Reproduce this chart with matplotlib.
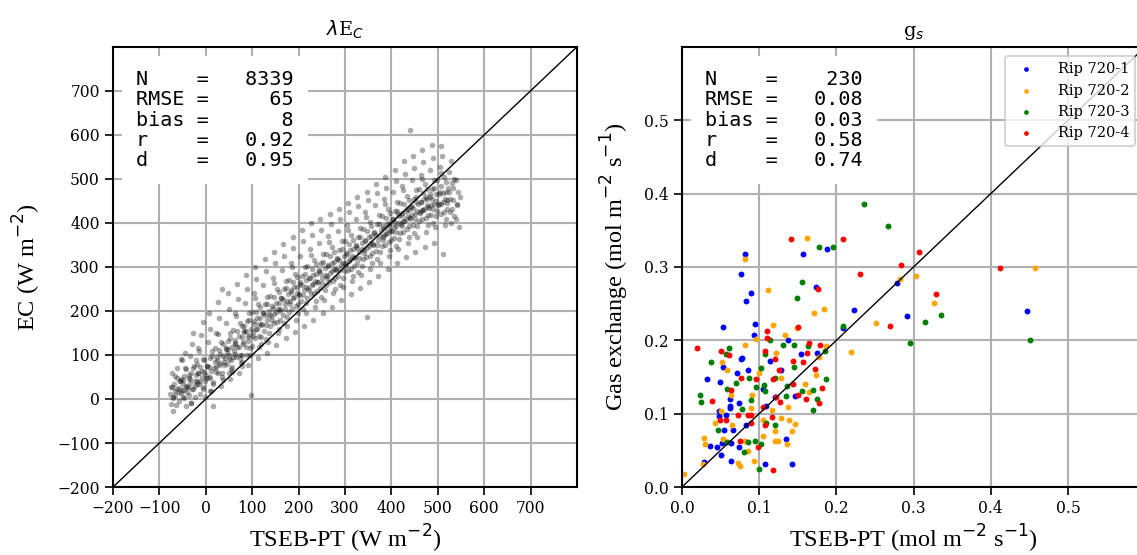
import numpy as np
import matplotlib
matplotlib.use('Agg')
import matplotlib.pyplot as plt

plt.rcParams['font.family'] = 'DejaVu Serif'

# latent heat: (TSEB-PT, EC) in W m-2
le_pairs = [
    (-78,12),(-74,28),(-71,3),(-69,35),(-66,18),(-63,47),(-76,-12),(-61,22),(-72,60),(-67,8),
    (-58,25),(-55,40),(-53,14),(-50,33),(-48,52),(-46,21),(-44,70),(-57,-5),(-52,88),(-42,30),(-49,5),(-45,105),(-54,45),(-41,15),
    (-38,28),(-36,48),(-33,37),(-31,60),(-28,22),(-26,75),(-24,42),(-35,98),(-29,125),(-22,55),(-37,8),(-27,150),(-32,-8),(-23,30),
    (-19,42),(-17,60),(-14,35),(-12,72),(-9,50),(-7,90),(-5,28),(-16,115),(-10,145),(-3,62),(-13,12),(-6,175),(-1,40),(-18,80),
    (1,55),(3,75),(6,48),(8,92),(11,63),(13,108),(15,38),(4,130),(9,160),(17,70),(12,18),(7,195),(19,85),(16,-15),
    (21,72),(24,95),(26,60),(28,112),(31,82),(33,130),(35,50),(23,150),(29,185),(37,98),(32,30),(27,220),(39,78),(36,250),
    (41,92),(43,115),(46,80),(48,132),(51,100),(53,150),(55,68),(44,172),(49,205),(57,118),(52,45),(47,240),(59,95),(54,88),(45,105),(56,62),
    (61,110),(63,135),(66,95),(68,155),(71,118),(73,172),(75,82),(64,195),(69,228),(77,140),(72,60),(67,262),(79,100),(74,92),(62,125),(78,75),
    (81,130),(83,155),(86,118),(88,178),(91,140),(93,195),(95,100),(84,218),(89,250),(97,160),(92,78),(87,282),(99,120),(82,165),(94,145),(98,8),
    (101,152),(103,178),(106,138),(108,198),(111,160),(113,215),(115,118),(104,240),(109,272),(117,185),(112,92),(107,300),(119,140),(114,170),
    (121,170),(123,195),(126,155),(128,215),(131,180),(133,232),(135,130),(124,258),(129,290),(137,200),(132,105),(127,318),(139,165),(136,190),
    (141,188),(143,212),(146,172),(148,232),(151,198),(153,250),(155,150),(144,275),(149,308),(157,218),(152,122),(147,335),(159,180),(156,205),
    (161,205),(163,230),(166,190),(168,250),(171,215),(173,268),(175,165),(164,292),(169,325),(177,238),(172,138),(167,352),(179,198),(174,222),
    (181,222),(183,248),(186,205),(188,266),(191,232),(193,285),(195,180),(184,310),(189,342),(197,255),(192,152),(187,368),(199,215),(196,240),
    (201,238),(203,262),(206,222),(208,280),(211,248),(213,300),(215,195),(204,325),(209,358),(217,270),(212,165),(207,385),(219,230),(216,255),
    (221,252),(223,276),(226,238),(228,295),(231,262),(233,315),(235,210),(224,340),(229,372),(237,285),(232,180),(227,400),(239,245),(236,268),
    (241,266),(243,290),(246,252),(248,310),(251,276),(253,330),(255,225),(244,355),(249,385),(257,298),(252,195),(247,410),(259,260),(256,282),
    (261,280),(263,305),(266,265),(268,325),(271,290),(273,345),(275,240),(264,370),(269,398),(277,312),(272,210),(267,420),(279,275),(276,295),
    (281,295),(283,318),(286,280),(288,338),(291,304),(293,358),(295,255),(284,382),(289,410),(297,325),(292,225),(287,432),(299,290),(296,310),
    (301,308),(303,332),(306,292),(308,352),(311,318),(313,372),(315,268),(304,395),(309,425),(317,340),(312,238),(307,445),(319,302),(316,325),
    (321,322),(323,348),(326,308),(328,368),(331,333),(333,388),(335,282),(324,410),(329,438),(337,355),(332,252),(327,458),(339,318),(336,340),
    (341,338),(343,362),(346,322),(348,382),(351,348),(353,402),(355,296),(344,425),(349,452),(357,370),(352,265),(347,470),(359,332),(356,355),(347,186),
    (361,352),(363,378),(366,336),(368,398),(371,362),(373,418),(375,310),(364,440),(369,468),(377,385),(372,280),(367,488),(379,348),(376,370),
    (381,368),(383,392),(386,350),(388,412),(391,378),(393,432),(395,325),(384,455),(389,480),(397,400),(392,295),(387,505),(399,362),(396,385),(385,372),(394,395),
    (401,382),(403,408),(406,365),(408,428),(411,392),(413,448),(415,340),(404,470),(409,495),(417,415),(412,308),(407,520),(419,378),(416,400),(405,390),(414,420),
    (421,398),(423,422),(426,380),(428,442),(431,408),(433,462),(435,355),(424,485),(429,512),(437,430),(432,322),(427,540),(439,392),(436,415),(425,405),(434,432),(440,611),
    (441,412),(443,436),(446,395),(448,455),(451,420),(453,475),(455,368),(444,498),(449,525),(457,442),(452,335),(447,552),(459,405),(456,428),(445,418),(454,448),
    (461,425),(463,448),(466,408),(468,468),(471,432),(473,488),(475,380),(464,510),(469,538),(477,455),(472,345),(467,565),(479,418),(476,440),(465,430),(474,460),
    (481,435),(483,458),(486,418),(488,478),(491,442),(493,498),(495,390),(484,520),(489,548),(497,465),(492,355),(487,578),(499,428),(496,450),(485,440),
    (501,440),(503,465),(506,420),(508,485),(511,448),(513,505),(515,395),(504,528),(509,552),(517,470),(512,330),(507,575),(519,432),(516,455),
    (521,445),(524,470),(527,425),(530,490),(533,452),(536,500),(539,410),(525,515),(542,440),(545,390),(528,540),(547,460),
    # second pass over the dense core
    (-73,27),(-70,4),(-67,52),(-64,-13),(-61,70),(-58,16),(-56,42),(-71,-28),
    (-52,20),(-49,44),(-46,2),(-43,68),(-40,27),(-37,55),(-54,90),(-42,-15),
    (-33,45),(-30,22),(-27,70),(-24,5),(-21,88),(-18,34),(-16,60),(-31,-10),
    (-12,40),(-9,64),(-6,22),(-3,88),(0,47),(3,75),(-14,110),(-2,5),
    (7,73),(10,50),(13,98),(16,33),(19,116),(22,62),(24,88),(9,18),
    (28,78),(31,102),(34,60),(37,126),(40,85),(43,113),(26,148),(38,43),
    (47,113),(50,90),(53,138),(56,73),(59,156),(62,102),(64,128),(49,58),
    (68,118),(71,142),(74,100),(77,166),(80,125),(83,153),(66,188),(78,83),
    (87,155),(90,132),(93,180),(96,115),(99,198),(102,144),(104,170),(89,100),
    (108,160),(111,184),(114,142),(117,208),(120,167),(123,195),(106,230),(118,125),
    (127,191),(130,168),(133,216),(136,151),(139,234),(142,180),(144,206),(129,136),
    (148,194),(151,218),(154,176),(157,242),(160,201),(163,229),(146,264),(158,159),
    (167,227),(170,204),(173,252),(176,187),(179,270),(182,216),(184,242),(169,172),
    (188,230),(191,254),(194,212),(197,278),(200,237),(203,265),(186,300),(198,195),
    (207,259),(210,236),(213,284),(216,219),(219,302),(222,248),(224,274),(209,204),
    (228,258),(231,282),(234,240),(237,306),(240,265),(243,293),(226,328),(238,223),
    (247,287),(250,264),(253,312),(256,247),(259,330),(262,276),(264,302),(249,232),
    (268,286),(271,310),(274,268),(277,334),(280,293),(283,321),(266,356),(278,251),
    (287,315),(290,292),(293,340),(296,275),(299,358),(302,304),(304,330),(289,260),
    (308,314),(311,338),(314,296),(317,362),(320,321),(323,349),(306,384),(318,279),
    (327,343),(330,320),(333,368),(336,303),(339,386),(342,332),(344,358),(329,288),
    (348,344),(351,368),(354,326),(357,392),(360,351),(363,379),(346,414),(358,309),
    (367,373),(370,350),(373,398),(376,333),(379,416),(382,362),(384,388),(369,318),
    (388,374),(391,398),(394,356),(397,422),(400,381),(403,409),(386,444),(398,339),
    (407,403),(410,380),(413,428),(416,363),(419,446),(422,392),(424,418),(409,348),
    (428,404),(431,428),(434,386),(437,452),(440,411),(443,439),(426,474),(438,369),
    (447,433),(450,410),(453,458),(456,393),(459,476),(462,422),(464,448),(449,378),
    (468,430),(471,454),(474,412),(477,478),(480,437),(483,465),(466,500),(478,395),
    (487,455),(490,432),(493,480),(496,415),(499,498),(502,444),(504,470),(489,400),
    (508,444),(511,468),(514,426),(517,492),(520,451),(523,479),(506,514),(518,409),
    (527,455),(530,432),(533,480),(536,415),(539,498),(542,444),(544,470),(529,400),
]
le_tseb, le_ec = np.array(le_pairs, dtype=float).T

# stomatal conductance per site: TSEB-PT vs gas exchange (mol m-2 s-1)
gs_tseb_1 = [0.081,0.157,0.188,0.076,0.173,0.089,0.083,0.223,0.278,0.292,0.447,0.053,0.094,0.093,0.209,0.137,
             0.078,0.076,0.154,0.175,0.114,0.128,0.085,0.071,0.053,0.032,0.049,0.062,0.062,0.062,0.074,0.146,
             0.121,0.109,0.048,0.048,0.057,0.083,0.055,0.066,0.036,0.045,0.052,0.074,0.051,0.063,0.108,0.143,
             0.135,0.028,0.064,0.105]
gs_gas_1 = [0.317,0.317,0.325,0.290,0.273,0.264,0.253,0.241,0.278,0.233,0.240,0.218,0.222,0.207,0.217,0.200,
            0.176,0.175,0.181,0.183,0.172,0.159,0.159,0.155,0.164,0.147,0.143,0.120,0.111,0.108,0.115,0.124,
            0.123,0.111,0.103,0.097,0.098,0.085,0.078,0.078,0.056,0.054,0.060,0.055,0.043,0.035,0.031,0.031,
            0.065,0.034,0.060,0.134]
gs_tseb_2 = [0.082,0.162,0.112,0.184,0.171,0.283,0.303,0.327,0.251,0.219,0.118,0.134,0.149,0.096,0.081,0.186,
             0.052,0.058,0.122,0.178,0.160,0.165,0.174,0.128,0.100,0.063,0.091,0.090,0.117,0.137,0.128,0.139,
             0.146,0.143,0.120,0.121,0.125,0.136,0.105,0.105,0.065,0.043,0.051,0.086,0.093,0.073,0.075,0.029,
             0.030,0.027,0.002,0.081,0.053,0.457]
gs_gas_2 = [0.311,0.339,0.268,0.242,0.237,0.284,0.288,0.251,0.223,0.184,0.221,0.207,0.217,0.202,0.193,0.192,
            0.171,0.160,0.183,0.177,0.141,0.130,0.153,0.149,0.156,0.125,0.125,0.108,0.105,0.109,0.094,0.092,
            0.086,0.076,0.076,0.063,0.063,0.059,0.091,0.070,0.084,0.087,0.104,0.049,0.035,0.033,0.029,0.067,
            0.058,0.032,0.018,0.063,0.066,0.299]
gs_tseb_3 = [0.236,0.267,0.178,0.195,0.156,0.149,0.209,0.315,0.335,0.295,0.451,0.163,0.145,0.131,0.114,0.108,
             0.061,0.057,0.038,0.185,0.102,0.087,0.070,0.058,0.145,0.136,0.155,0.170,0.175,0.186,0.170,0.023,
             0.024,0.078,0.090,0.096,0.106,0.121,0.135,0.107,0.121,0.047,0.058,0.080,0.086,0.094,0.100,0.109,
             0.102]
gs_gas_3 = [0.386,0.356,0.327,0.327,0.280,0.257,0.219,0.225,0.234,0.196,0.200,0.192,0.194,0.194,0.200,0.181,
            0.189,0.181,0.170,0.185,0.162,0.149,0.142,0.134,0.163,0.138,0.131,0.132,0.120,0.147,0.105,0.125,
            0.116,0.107,0.119,0.136,0.139,0.148,0.124,0.131,0.085,0.078,0.062,0.048,0.062,0.063,0.024,0.087,
            0.058]
gs_tseb_4 = [0.141,0.209,0.307,0.284,0.230,0.176,0.329,0.269,0.412,0.150,0.110,0.110,0.019,0.051,0.061,0.107,
             0.179,0.164,0.162,0.144,0.157,0.120,0.126,0.076,0.096,0.118,0.172,0.181,0.178,0.161,0.150,0.144,
             0.127,0.122,0.064,0.039,0.085,0.090,0.073,0.049,0.057,0.105,0.117,0.107,0.089,0.075,0.099,0.118]
gs_gas_4 = [0.338,0.338,0.320,0.302,0.291,0.270,0.263,0.219,0.298,0.218,0.213,0.203,0.189,0.186,0.180,0.185,
            0.194,0.196,0.183,0.172,0.170,0.174,0.159,0.149,0.147,0.147,0.161,0.135,0.115,0.120,0.125,0.140,
            0.116,0.123,0.132,0.117,0.098,0.098,0.098,0.091,0.091,0.109,0.096,0.085,0.087,0.063,0.054,0.023]

sites = ['Rip 720-1', 'Rip 720-2', 'Rip 720-3', 'Rip 720-4']
site_colors = ['blue', 'orange', 'green', 'red']

le_stats = [('N', '8339'), ('RMSE', '65'), ('bias', '8'), ('r', '0.92'), ('d', '0.95')]
gs_stats = [('N', '230'), ('RMSE', '0.08'), ('bias', '0.03'), ('r', '0.58'), ('d', '0.74')]


def stats_text(stats):
    return '\n'.join('%-5s= %6s' % (k, v) for k, v in stats)


def style_axes(ax):
    ax.grid(True, color='#b0b0b0', lw=1.5)
    ax.set_axisbelow(True)
    for s in ax.spines.values():
        s.set_linewidth(1.5)
    ax.tick_params(labelsize=11.2, length=6, width=1.2)


fig = plt.figure(figsize=(11.37, 5.55), dpi=100)
ax1 = fig.add_axes([0.0994, 0.1225, 0.408, 0.793])
ax2 = fig.add_axes([0.5998, 0.1225, 0.4074, 0.793])

label_font = dict(family='Liberation Serif', fontsize=17.5)

# left panel
ax1.scatter(le_tseb, le_ec, s=16, c='k', alpha=0.33, lw=0)
ax1.plot([-200, 800], [-200, 800], 'k-', lw=1)
ax1.set_xlim(-200, 800)
ax1.set_ylim(-200, 800)
ax1.set_xticks(np.arange(-200, 800, 100))
ax1.set_yticks(np.arange(-200, 800, 100))
ax1.set_title(r'$\lambda$E$_C$', fontsize=14, pad=8)
ax1.set_xlabel(r'TSEB-PT (W m$^{-2}$)', **label_font)
ax1.set_ylabel(r'EC (W m$^{-2}$)', labelpad=10, **label_font)
style_axes(ax1)
ax1.text(0.05, 0.947, stats_text(le_stats), transform=ax1.transAxes, va='top', ha='left',
         family='DejaVu Sans Mono', fontsize=14.5, linespacing=1.08,
         bbox=dict(facecolor='white', edgecolor='none', pad=10))

# right panel
gs_x = [gs_tseb_1, gs_tseb_2, gs_tseb_3, gs_tseb_4]
gs_y = [gs_gas_1, gs_gas_2, gs_gas_3, gs_gas_4]
for xs, ys, name, col in zip(gs_x, gs_y, sites, site_colors):
    ax2.scatter(xs, ys, s=18, c=col, lw=0, label=name)
ax2.plot([0, 0.6], [0, 0.6], 'k-', lw=1)
ax2.set_xlim(0, 0.6)
ax2.set_ylim(0, 0.6)
ax2.set_xticks(np.arange(0, 0.6, 0.1))
ax2.set_yticks(np.arange(0, 0.6, 0.1))
ax2.set_title(r'g$_s$', fontsize=14, pad=8)
ax2.set_xlabel(r'TSEB-PT (mol m$^{-2}$ s$^{-1}$)', **label_font)
ax2.set_ylabel(r'Gas exchange (mol m$^{-2}$ s$^{-1}$)', labelpad=9, **label_font)
style_axes(ax2)
ax2.text(0.05, 0.947, stats_text(gs_stats), transform=ax2.transAxes, va='top', ha='left',
         family='DejaVu Sans Mono', fontsize=14.5, linespacing=1.08,
         bbox=dict(facecolor='white', edgecolor='none', pad=10))
leg = ax2.legend(loc='upper right', fontsize=10.5, markerscale=0.8, handletextpad=1.2,
                 bbox_to_anchor=(0.985, 0.985), borderaxespad=0.2)
leg.get_frame().set_linewidth(1.5)

fig.savefig('out.png', dpi=100)
